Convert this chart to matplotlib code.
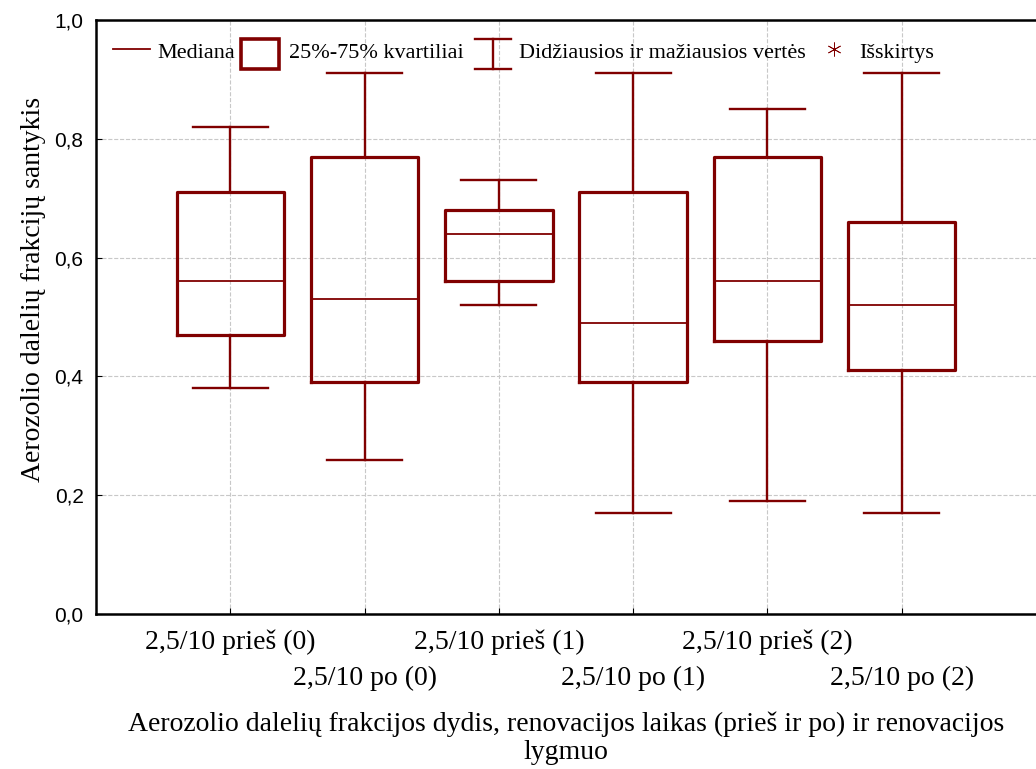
import matplotlib
matplotlib.use("Agg")
import matplotlib.pyplot as plt
from matplotlib.legend_handler import HandlerBase
from matplotlib.lines import Line2D
from matplotlib.patches import Rectangle
from matplotlib.ticker import FuncFormatter

# duomenys
labels = ["2,5/10 prieš (0)", "2,5/10 po (0)", "2,5/10 prieš (1)",
          "2,5/10 po (1)", "2,5/10 prieš (2)", "2,5/10 po (2)"]
whislo = [0.38, 0.26, 0.52, 0.17, 0.19, 0.17]
q1 = [0.47, 0.39, 0.56, 0.39, 0.46, 0.41]
med = [0.56, 0.53, 0.64, 0.49, 0.56, 0.52]
q3 = [0.71, 0.77, 0.68, 0.71, 0.77, 0.66]
whishi = [0.82, 0.91, 0.73, 0.91, 0.85, 0.91]

RED = "#800000"
SERIF = ["Liberation Serif", "DejaVu Serif"]

stats = []
for i in range(len(labels)):
    stats.append(dict(whislo=whislo[i], q1=q1[i], med=med[i], q3=q3[i],
                      whishi=whishi[i], fliers=[], label=labels[i]))

fig = plt.figure(figsize=(10.36, 7.69), dpi=100)
ax = fig.add_axes([0.0927, 0.2016, 0.9073, 0.7724])

pos = list(range(1, len(labels) + 1))
ax.bxp(stats, positions=pos, widths=0.8, capwidths=0.56,
       boxprops=dict(color=RED, linewidth=2.3),
       medianprops=dict(color=RED, linewidth=1.3),
       whiskerprops=dict(color=RED, linewidth=1.7),
       capprops=dict(color=RED, linewidth=1.7),
       showfliers=False, zorder=3)

ax.set_xlim(0, 7)
ax.set_ylim(0, 1.0)
ax.set_yticks([0, 0.2, 0.4, 0.6, 0.8, 1.0])
ax.yaxis.set_major_formatter(FuncFormatter(lambda v, p: f"{v:.1f}".replace(".", ",")))
ax.set_xticks(pos)
ax.set_xticklabels(labels, family=SERIF, fontsize=20)
for i, t in enumerate(ax.xaxis.get_major_ticks()):
    t.set_pad(11 if i % 2 == 0 else 37)

for lab in ax.get_yticklabels():
    lab.set_family(["Liberation Sans", "DejaVu Sans"])
    lab.set_fontsize(15)

ax.tick_params(axis="both", direction="in", length=4, color="black")
ax.tick_params(axis="y", pad=9)
ax.grid(True, color="#c8c8c8", linestyle="--", linewidth=0.8)
ax.set_axisbelow(True)
ax.spines["right"].set_visible(False)
for s in ["left", "bottom", "top"]:
    ax.spines[s].set_linewidth(1.8)

ax.set_ylabel("Aerozolio dalelių frakcijų santykis", family=SERIF,
              fontsize=20, labelpad=6, y=0.547)
ax.set_xlabel("Aerozolio dalelių frakcijos dydis, renovacijos laikas (prieš ir po) ir renovacijos\nlygmuo",
              family=SERIF, fontsize=20, labelpad=15, linespacing=1.15)


# legendos simboliai
class HandlerBoxKey(HandlerBase):
    def create_artists(self, legend, orig_handle, xd, yd, width, height, fontsize, trans):
        h = height * 1.5
        r = Rectangle((xd - 3, yd + height / 2 - h / 2 - 6), width, h,
                      facecolor="white", edgecolor=RED, lw=2.6, transform=trans)
        return [r]


class HandlerWhisker(HandlerBase):
    def create_artists(self, legend, orig_handle, xd, yd, width, height, fontsize, trans):
        cx = xd + width / 2
        w = width * 0.95
        lo = yd - height * 0.27 - 6
        hi = yd + height * 1.27 - 6
        v = Line2D([cx, cx], [lo, hi], color=RED, lw=1.7, transform=trans)
        t = Line2D([cx - w / 2, cx + w / 2], [hi, hi], color=RED, lw=1.7, transform=trans)
        b = Line2D([cx - w / 2, cx + w / 2], [lo, lo], color=RED, lw=1.7, transform=trans)
        return [v, t, b]


class BoxKey:
    pass


class WhiskerKey:
    pass


h_med = Line2D([], [], color=RED, lw=1.3)
h_out = Line2D([], [], color=RED, marker=(6, 2, 0), markersize=10, linestyle="none", mew=0.6)

ax.legend([h_med, BoxKey(), WhiskerKey(), h_out],
          ["Mediana", "25%-75% kvartiliai", "Didžiausios ir mažiausios vertės", "Išskirtys"],
          handler_map={BoxKey: HandlerBoxKey(), WhiskerKey: HandlerWhisker()},
          loc="upper left", bbox_to_anchor=(0.0, 0.994), ncol=4, frameon=False,
          prop=dict(family=SERIF, size=16), handlelength=1.7, handleheight=1.0,
          handletextpad=0.3, columnspacing=0.45, borderaxespad=0.35)

fig.savefig("out.png", dpi=100)
